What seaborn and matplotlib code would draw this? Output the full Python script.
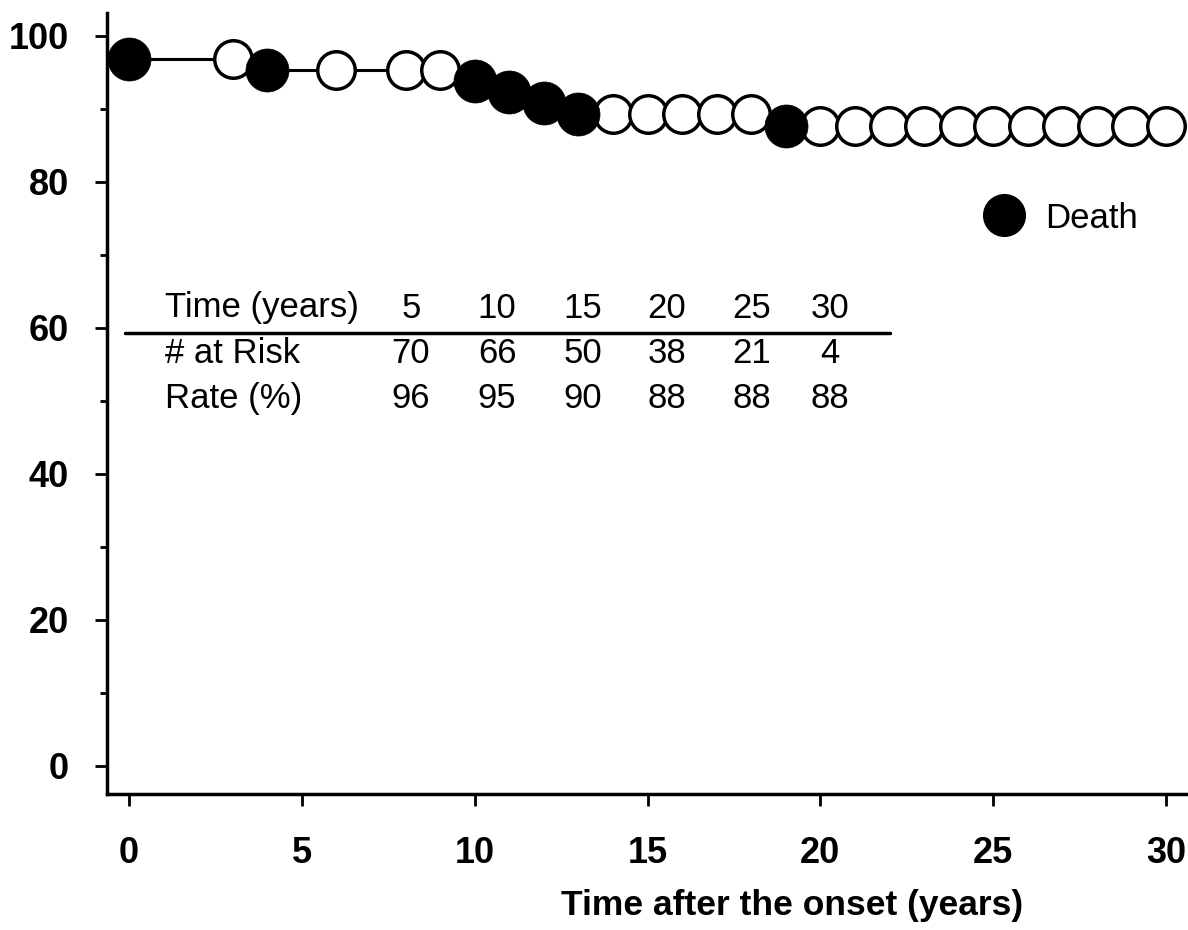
import matplotlib
matplotlib.use('Agg')
import matplotlib.pyplot as plt
from matplotlib.lines import Line2D
import seaborn as sns
import pandas as pd

# Kaplan-Meier curve (years, % surviving, 1 = death / 0 = censored)
times = [0, 3, 4, 6, 8, 9, 10, 11, 12, 13, 14, 15, 16, 17, 18, 19,
         20, 21, 22, 23, 24, 25, 26, 27, 28, 29, 30]
survival = [96.9, 96.9, 95.4, 95.4, 95.4, 95.4, 93.9, 92.3, 90.8, 89.3,
            89.3, 89.3, 89.3, 89.3, 89.3, 87.7,
            87.7, 87.7, 87.7, 87.7, 87.7, 87.7, 87.7, 87.7, 87.7, 87.7, 87.7]
death = [1, 0, 1, 0, 0, 0, 1, 1, 1, 1, 0, 0, 0, 0, 0, 1,
         0, 0, 0, 0, 0, 0, 0, 0, 0, 0, 0]

# numbers-at-risk table
table_years = ['5', '10', '15', '20', '25', '30']
at_risk = ['70', '66', '50', '38', '21', '4']
rate = ['96', '95', '90', '88', '88', '88']

df = pd.DataFrame({'time': times, 'surv': survival, 'death': death})

sns.set_style('ticks')
plt.rcParams['font.family'] = ['Liberation Sans', 'DejaVu Sans']
plt.rcParams['text.color'] = 'black'
plt.rcParams['axes.labelcolor'] = 'black'
plt.rcParams['axes.edgecolor'] = 'black'

W, H = 1188, 930
fig = plt.figure(figsize=(W / 100, H / 100), dpi=100)
ax = fig.add_axes([107 / W, (H - 794) / H, 1 - 107 / W, (794 - 13) / H])


def fx(x):
    return x / W


def fy(y):
    return 1 - y / H


sns.lineplot(data=df, x='time', y='surv', ax=ax, color='black', lw=2.2,
             drawstyle='steps-post', estimator=None, zorder=2)
sns.scatterplot(data=df[df['death'] == 0], x='time', y='surv', ax=ax, s=730,
                facecolor='white', edgecolor='black', linewidth=2.5, zorder=3)
sns.scatterplot(data=df[df['death'] == 1], x='time', y='surv', ax=ax, s=960,
                color='black', edgecolor='black', linewidth=0.5, zorder=4)

ax.set_xlim(-0.636, 30.636)
ax.set_ylim(-3.84, 103.15)
ax.set_xticks([0, 5, 10, 15, 20, 25, 30])
ax.set_yticks([0, 20, 40, 60, 80, 100])
ax.set_yticks([10, 30, 50, 70, 90], minor=True)
sns.despine(ax=ax)
for s in ['left', 'bottom']:
    ax.spines[s].set_linewidth(2.5)
ax.tick_params(which='major', length=8.5, width=2, color='black', labelsize=26,
               labelcolor='black')
ax.tick_params(axis='y', which='major', pad=19)
ax.tick_params(axis='x', which='major', pad=22)
ax.tick_params(which='minor', length=5, width=2, color='black')
for lab in ax.get_xticklabels() + ax.get_yticklabels():
    lab.set_fontweight('bold')

ax.set_ylabel('')
ax.set_xlabel('Time after the onset (years)', fontsize=25.5, fontweight='bold',
              va='center')
ax.xaxis.set_label_coords((792 - 107) / 1081, (794 - 905) / 781)

# legend for the filled marker
handle = Line2D([], [], marker='o', ls='', color='black', markersize=30)
ax.legend(handles=[handle], labels=['Death'], frameon=False, loc='center left',
          bbox_to_anchor=(fx(983), fy(218)), bbox_transform=fig.transFigure,
          borderpad=0, borderaxespad=0, handlelength=1.2, handletextpad=0.6,
          prop={'family': 'Liberation Sans', 'size': 25})

# at-risk table
col_x = [411, 497, 583, 667, 752, 830]
rows = [('Time (years)', table_years, 308), ('# at Risk', at_risk, 353),
        ('Rate (%)', rate, 398)]
for name, vals, y in rows:
    fig.text(fx(165), fy(y), name, ha='left', va='center', fontsize=25)
    for x, v in zip(col_x, vals):
        fig.text(fx(x), fy(y), v, ha='center', va='center', fontsize=25)
fig.add_artist(Line2D([fx(125), fx(890)], [fy(333), fy(333)], color='black', lw=2.5))

fig.savefig('out.png', dpi=100)
